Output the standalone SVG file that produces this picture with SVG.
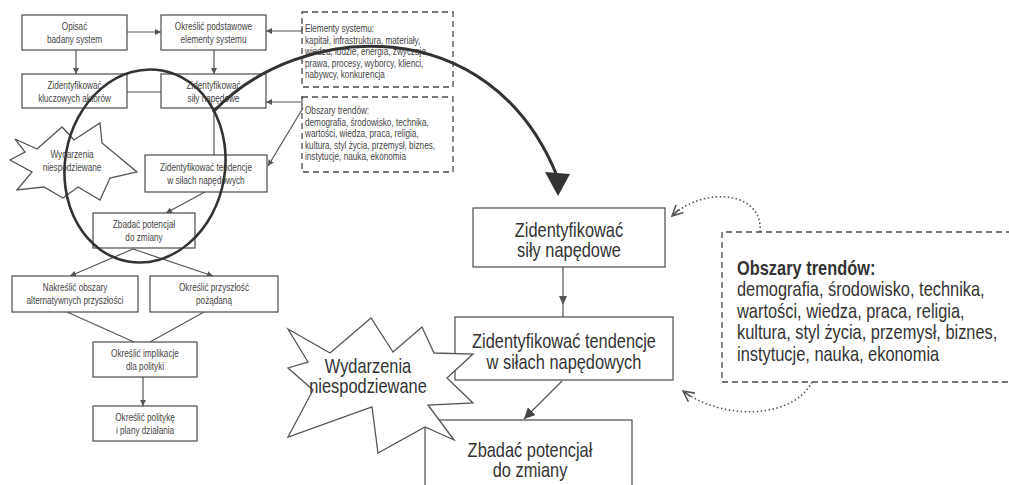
<svg xmlns="http://www.w3.org/2000/svg" width="1009" height="485" viewBox="0 0 1009 485">
<style>
.bx{fill:#fff;stroke:#4a4a4a;stroke-width:1.2}
.dbx{fill:none;stroke:#4a4a4a;stroke-width:1.3;stroke-dasharray:6,4}
.ln{fill:none;stroke:#555;stroke-width:1.2}
.st{fill:#fff;stroke:#555;stroke-width:1.3;stroke-linejoin:miter}
.s{font-family:"Liberation Sans",Arial,sans-serif;font-size:10px;fill:#444}
.c{text-anchor:middle}
.b{font-family:"Liberation Sans",Arial,sans-serif;font-size:20px;fill:#333}
.bb{font-weight:bold}
.dot{fill:none;stroke:#555;stroke-width:1.6;stroke-dasharray:1.5,2.5}
</style>
<defs>
<marker id="sa" viewBox="0 0 8 8" refX="8" refY="4" markerWidth="6" markerHeight="6" markerUnits="userSpaceOnUse" orient="auto"><path d="M0,0 L8,4 L0,8 Z" fill="#555"/></marker>
<marker id="ma" viewBox="0 0 10 10" refX="10" refY="5" markerWidth="11" markerHeight="11" markerUnits="userSpaceOnUse" orient="auto"><path d="M0,0 L10,5 L0,10 Z" fill="#444"/></marker>
<marker id="oa" viewBox="0 0 10 10" refX="9" refY="5" markerWidth="12" markerHeight="12" markerUnits="userSpaceOnUse" orient="auto"><path d="M0,0.5 L9,5 L0,9.5 M9,5 L1,5" fill="none" stroke="#555" stroke-width="1.3"/></marker>
</defs>
<rect width="1009" height="485" fill="#fff"/>

<g id="connectors">
<line class="ln" x1="127" y1="32" x2="161" y2="32" marker-end="url(#sa)"/>
<line class="ln" x1="76" y1="50" x2="76" y2="74" marker-end="url(#sa)"/>
<line class="ln" x1="214" y1="50" x2="214" y2="74" marker-end="url(#sa)"/>
<line class="ln" x1="127" y1="92" x2="161" y2="92"/>
<polyline class="ln" points="302,26 302,31 266,31" marker-end="url(#sa)"/>
<polyline class="ln" points="302,96 302,102 266,102" marker-end="url(#sa)"/>
<line class="ln" x1="303" y1="108" x2="268" y2="166" marker-end="url(#sa)"/>
<line class="ln" x1="214" y1="108" x2="214" y2="155"/>
<line class="ln" x1="205" y1="192" x2="166" y2="213" marker-end="url(#sa)"/>
<line class="ln" x1="133" y1="249" x2="70" y2="276" marker-end="url(#sa)"/>
<line class="ln" x1="133" y1="249" x2="213" y2="276" marker-end="url(#sa)"/>
<line class="ln" x1="67" y1="312" x2="134" y2="342"/>
<line class="ln" x1="204" y1="312" x2="150" y2="342"/>
<line class="ln" x1="143" y1="377" x2="143" y2="406" marker-end="url(#sa)"/>
<line class="ln" x1="563" y1="267" x2="563" y2="317"/>
<path d="M559,296 L567,296 L563,305 Z" fill="#555"/>
<line class="ln" x1="562" y1="381" x2="524" y2="419" marker-end="url(#ma)" stroke-width="1.4"/>
<path class="dot" d="M760,232 C 764,192 705,185 672,216" marker-end="url(#oa)"/>
<path class="dot" d="M812,382 C 792,420 722,420 683,391" marker-end="url(#oa)"/>
</g>

<g id="n-opisac"><rect class="bx" x="22" y="15" width="105" height="35"/>
<text class="s c" transform="translate(74.5 30) scale(0.82 1)">Opisać</text><text class="s c" transform="translate(74.5 43) scale(0.82 1)">badany system</text></g>
<g id="n-okreslic-elementy"><rect class="bx" x="161" y="15" width="105" height="35"/>
<text class="s c" transform="translate(213.5 30) scale(0.82 1)">Określić podstawowe</text><text class="s c" transform="translate(213.5 43) scale(0.82 1)">elementy systemu</text></g>
<g id="n-aktorzy"><rect class="bx" x="22" y="74" width="105" height="34"/>
<text class="s c" transform="translate(74.5 89) scale(0.82 1)">Zidentyfikować</text><text class="s c" transform="translate(74.5 102) scale(0.82 1)">kluczowych aktorów</text></g>
<g id="n-sily-small"><rect class="bx" x="161" y="74" width="105" height="34"/>
<text class="s c" transform="translate(213.5 89) scale(0.82 1)">Zidentyfikować</text><text class="s c" transform="translate(213.5 102) scale(0.82 1)">siły napędowe</text></g>
<g id="n-elementy"><rect class="dbx" x="302" y="12" width="151" height="75"/>
<text class="s" transform="translate(305 32) scale(0.82 1)">Elementy systemu:</text>
<text class="s" transform="translate(305 43.5) scale(0.82 1)">kapitał, infrastruktura, materiały,</text>
<text class="s" transform="translate(305 55) scale(0.82 1)">wiedza, ludzie, energia, zwyczaje,</text>
<text class="s" transform="translate(305 66.5) scale(0.82 1)">prawa, procesy, wyborcy, klienci,</text>
<text class="s" transform="translate(305 78) scale(0.82 1)">nabywcy, konkurencja</text></g>
<g id="n-obszary-small"><rect class="dbx" x="302" y="97" width="151" height="75"/>
<text class="s" transform="translate(305 114) scale(0.82 1)">Obszary trendów:</text>
<text class="s" transform="translate(305 125.5) scale(0.82 1)">demografia, środowisko, technika,</text>
<text class="s" transform="translate(305 137) scale(0.82 1)">wartości, wiedza, praca, religia,</text>
<text class="s" transform="translate(305 148.5) scale(0.82 1)">kultura, styl życia, przemysł, biznes,</text>
<text class="s" transform="translate(305 160) scale(0.82 1)">instytucje, nauka, ekonomia</text></g>
<g id="n-star-small"><polygon class="st" points="15,139 37,149 62,127 74,140 100,123 102,143 137,172 110,178 100,200 78,187 63,198 44,187 17,190 32,172 10,160 25,152"/>
<text class="s c" transform="translate(72 158) scale(0.82 1)">Wydarzenia</text><text class="s c" transform="translate(72 171) scale(0.82 1)">niespodziewane</text></g>
<g id="n-tendencje-small"><rect class="bx" x="145" y="155" width="122" height="37"/>
<text class="s c" transform="translate(206 171) scale(0.82 1)">Zidentyfikować tendencje</text><text class="s c" transform="translate(206 184) scale(0.82 1)">w siłach napędowych</text></g>
<g id="n-zbadac-small"><rect class="bx" x="93" y="213" width="102" height="35"/>
<text class="s c" transform="translate(144 228) scale(0.82 1)">Zbadać potencjał</text><text class="s c" transform="translate(144 241) scale(0.82 1)">do zmiany</text></g>
<g id="n-nakreslic"><rect class="bx" x="12" y="276" width="126" height="36"/>
<text class="s c" transform="translate(75 291) scale(0.82 1)">Nakreślić obszary</text><text class="s c" transform="translate(75 304) scale(0.82 1)">alternatywnych przyszłości</text></g>
<g id="n-przyszlosc"><rect class="bx" x="150" y="276" width="128" height="36"/>
<text class="s c" transform="translate(214 291) scale(0.82 1)">Określić przyszłość</text><text class="s c" transform="translate(214 304) scale(0.82 1)">pożądaną</text></g>
<g id="n-implikacje"><rect class="bx" x="93" y="342" width="104" height="35"/>
<text class="s c" transform="translate(145 357) scale(0.82 1)">Określić implikacje</text><text class="s c" transform="translate(145 370) scale(0.82 1)">dla polityki</text></g>
<g id="n-polityka"><rect class="bx" x="93" y="406" width="104" height="35"/>
<text class="s c" transform="translate(145 421) scale(0.82 1)">Określić politykę</text><text class="s c" transform="translate(145 434) scale(0.82 1)">i plany działania</text></g>

<g id="highlight">
<ellipse cx="145" cy="166" rx="80" ry="97" transform="rotate(10 145 166)" fill="none" stroke="#333" stroke-width="2.6"/>
<path d="M213,112 C 300,20 490,10 557,176" fill="none" stroke="#333" stroke-width="3"/>
<path d="M558,196 L545,172 L570,174 Z" fill="#333"/>
</g>

<g id="n-sily"><rect class="bx" x="473" y="208" width="192" height="59"/>
<text class="b c" transform="translate(569 237) scale(0.82 1)">Zidentyfikować</text><text class="b c" transform="translate(569 257) scale(0.82 1)">siły napędowe</text></g>
<g id="n-tendencje"><rect class="bx" x="455" y="317" width="218" height="63"/>
<text class="b c" transform="translate(564 348) scale(0.82 1)">Zidentyfikować tendencje</text><text class="b c" transform="translate(564 369) scale(0.82 1)">w siłach napędowych</text></g>
<g id="n-zbadac"><rect class="bx" x="425" y="420" width="207" height="80"/>
<text class="b c" transform="translate(530 457) scale(0.82 1)">Zbadać potencjał</text><text class="b c" transform="translate(530 477) scale(0.82 1)">do zmiany</text></g>
<g id="n-star"><polygon class="st" points="288,329 330,353 371,318 393,352 422,327 434,353 473,354 447,378 473,403 428,405 454,440 425,427 378,453 372,407 288,437 313,390 288,368 308,362"/>
<text class="b c" transform="translate(368 373) scale(0.82 1)">Wydarzenia</text><text class="b c" transform="translate(368 393) scale(0.82 1)">niespodziewane</text></g>
<g id="n-obszary"><path class="dbx" d="M1012,232 L722,232 L722,382 L1012,382"/>
<text class="b bb" transform="translate(737 275) scale(0.82 1)">Obszary trendów:</text>
<text class="b" transform="translate(737 296) scale(0.82 1)">demografia, środowisko, technika,</text>
<text class="b" transform="translate(737 318) scale(0.82 1)">wartości, wiedza, praca, religia,</text>
<text class="b" transform="translate(737 339) scale(0.82 1)">kultura, styl życia, przemysł, biznes,</text>
<text class="b" transform="translate(737 361) scale(0.82 1)">instytucje, nauka, ekonomia</text></g>
</svg>
